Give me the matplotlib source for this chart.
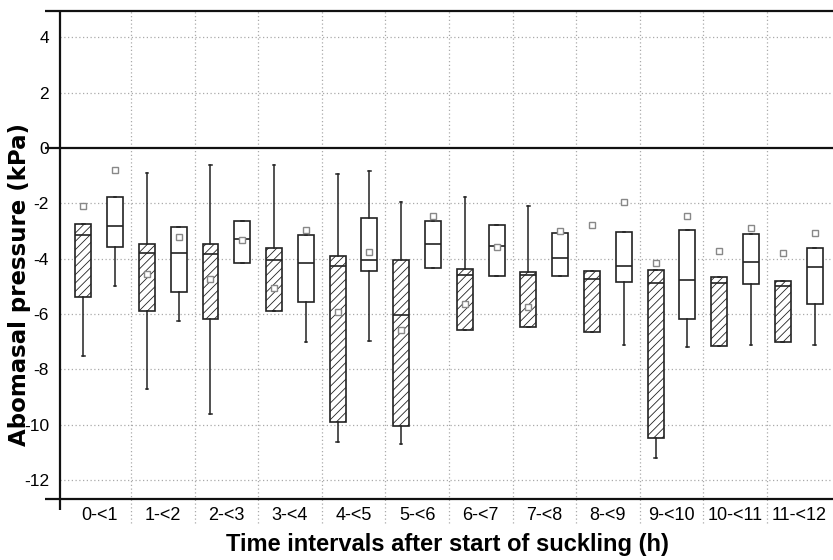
import numpy as np
import matplotlib
matplotlib.use("Agg")
import matplotlib.pyplot as plt
from matplotlib.transforms import blended_transform_factory

plt.rcParams['font.family'] = ['Liberation Sans', 'DejaVu Sans']
plt.rcParams['hatch.linewidth'] = 0.6

labels = ['0-<1', '1-<2', '2-<3', '3-<4', '4-<5', '5-<6',
          '6-<7', '7-<8', '8-<9', '9-<10', '10-<11', '11-<12']
nan = np.nan

# hatched boxes
h_q3 = [-2.74, -3.45, -3.48, -3.63, -3.91, -4.06, -4.36, -4.48, -4.46, -4.42, -4.66, -4.80]
h_med = [-3.14, -3.81, -3.83, -4.04, -4.26, -6.03, -4.60, -4.60, -4.75, -4.87, -4.86, -5.00]
h_q1 = [-5.37, -5.88, -6.19, -5.88, -9.90, -10.05, -6.57, -6.47, -6.63, -10.48, -7.17, -7.00]
h_hi = [nan, -0.91, -0.60, -0.60, -0.94, -1.96, -1.78, -2.11, nan, nan, nan, nan]
h_lo = [-7.50, -8.71, -9.60, nan, -10.63, -10.71, nan, nan, nan, -11.20, nan, nan]
h_mean = [-2.08, -4.55, -4.72, -5.04, -5.93, -6.56, -5.63, -5.73, -2.78, -4.14, -3.73, -3.79]

# open boxes
o_q3 = [-1.76, -2.84, -2.64, -3.14, -2.53, -2.65, -2.79, -3.07, -3.05, -2.96, -3.12, -3.61]
o_med = [-2.82, -3.81, -3.27, -4.16, -4.03, -3.48, -3.55, -3.97, -4.25, -4.77, -4.10, -4.31]
o_q1 = [-3.57, -5.20, -4.16, -5.55, -4.46, -4.32, -4.61, -4.61, -4.84, -6.17, -4.91, -5.62]
o_hi = [nan, nan, nan, nan, -0.82, nan, nan, nan, nan, nan, nan, nan]
o_lo = [-5.00, -6.25, nan, -7.02, -6.96, nan, nan, nan, -7.11, -7.20, -7.11, -7.11]
o_mean = [-0.78, -3.23, -3.32, -2.96, -3.74, -2.45, -3.57, -3.00, -1.95, -2.47, -2.89, -3.08]


def make_stats(q1, med, q3, lo, hi, mean):
    stats = []
    for i in range(len(q1)):
        stats.append({
            'q1': q1[i], 'med': med[i], 'q3': q3[i],
            'whislo': q1[i] if np.isnan(lo[i]) else lo[i],
            'whishi': q3[i] if np.isnan(hi[i]) else hi[i],
            'mean': mean[i], 'fliers': [],
        })
    return stats


fig = plt.figure(figsize=(8.33, 5.6), dpi=100)
ax = fig.add_axes([60 / 833, 1 - 499 / 560, 773 / 833, 488 / 560])

x = np.arange(len(labels))
n = len(labels)
common = dict(
    widths=0.25, capwidths=[0.04] * n, patch_artist=True, showmeans=True,
    boxprops=dict(linewidth=1.2, edgecolor='#222222'),
    medianprops=dict(color='#222222', linewidth=1.2),
    whiskerprops=dict(color='#222222', linewidth=1.1),
    capprops=dict(color='#222222', linewidth=1.1),
    meanprops=dict(marker='s', markersize=4.5, markerfacecolor='white',
                   markeredgecolor='#888888', markeredgewidth=1.0),
)
b1 = ax.bxp(make_stats(h_q1, h_med, h_q3, h_lo, h_hi, h_mean),
            positions=x - 0.25, **common)
b2 = ax.bxp(make_stats(o_q1, o_med, o_q3, o_lo, o_hi, o_mean),
            positions=x + 0.25, **common)
for p in b1['boxes']:
    p.set_facecolor('white')
    p.set_hatch('////')
for p in b2['boxes']:
    p.set_facecolor('white')

ax.set_xlim(-0.616, 11.54)
ax.set_ylim(-12.68, 4.95)

for s in ax.spines.values():
    s.set_visible(False)

# dotted grid
for yv in [-12, -10, -8, -6, -4, -2, 2, 4]:
    ax.axhline(yv, color='#aaaaaa', lw=0.9, ls=(0, (1, 2)), zorder=0)
xt = blended_transform_factory(ax.transData, ax.transAxes)
for b in np.arange(0.5, 11.0, 1.0):
    ax.plot([b, b], [-24 / 488, 1], transform=xt, color='#aaaaaa', lw=0.9,
            ls=(0, (1, 2)), clip_on=False, zorder=0)

# frame lines
yt = blended_transform_factory(ax.transAxes, ax.transData)
for yv in [4.95, 0, -12.68]:
    ax.plot([-15 / 773, 1], [yv, yv], transform=yt, color='#111111', lw=1.6,
            clip_on=False, solid_capstyle='butt')
ax.plot([0, 0], [-11 / 488, 1], transform=ax.transAxes, color='#111111', lw=1.6,
        clip_on=False, solid_capstyle='butt')

ax.set_xticks(x)
ax.set_xticklabels(labels, fontsize=13)
ax.set_yticks([-12, -10, -8, -6, -4, -2, 0, 2, 4])
ax.set_yticklabels(['-12', '-10', '-8', '-6', '-4', '-2', '0', '2', '4'], fontsize=12.5)
ax.tick_params(axis='both', length=0)
ax.tick_params(axis='x', pad=6)
ax.tick_params(axis='y', pad=8)

ax.set_ylabel('Abomasal pressure (kPa)', fontsize=16.5, fontweight='bold',
              family=['DejaVu Sans'])
ax.yaxis.set_label_coords(-40 / 773, (499 - 285) / 488)
ax.set_xlabel('Time intervals after start of suckling (h)', fontsize=17,
              fontweight='bold')
ax.xaxis.set_label_coords((447 - 60) / 773, -(545 - 499) / 488)
ax.xaxis.label.set_va('center')
ax.yaxis.label.set_va('center')

fig.savefig('out.png', dpi=100)
